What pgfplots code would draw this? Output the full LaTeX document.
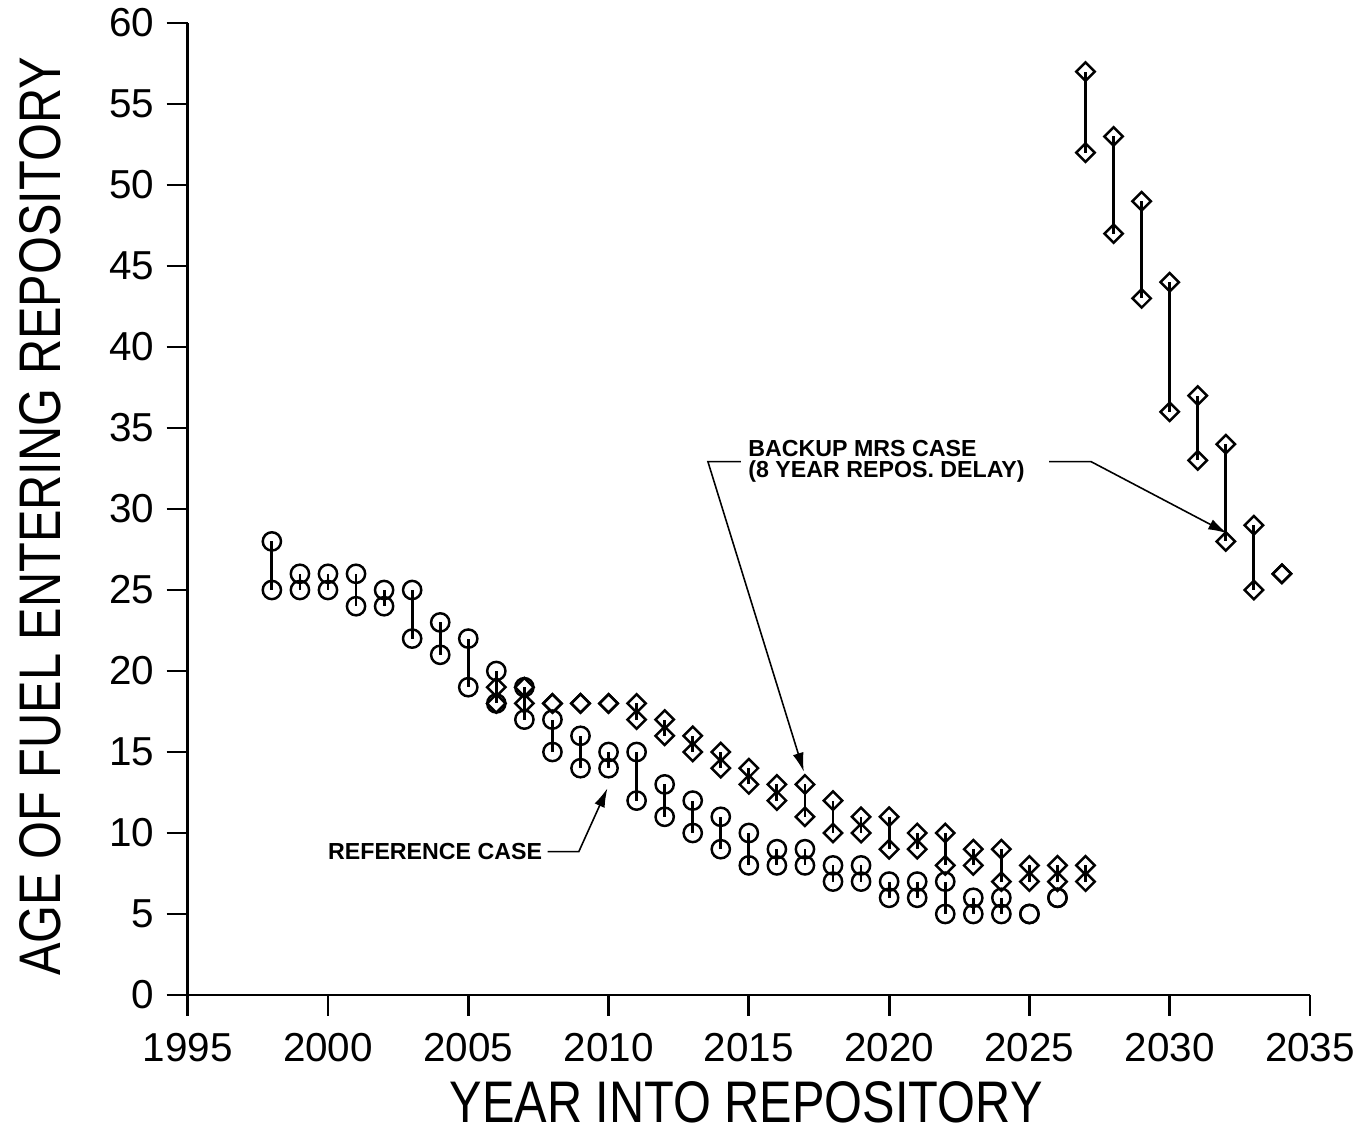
\documentclass[border=0pt]{standalone}
\usepackage{fontspec}
\setmainfont{Liberation Sans}
\newfontfamily\labfont[FakeStretch=0.83]{Liberation Sans}
\newfontfamily\annfont{Liberation Sans}
\usepackage{pgfplots}
\usepackage{pgfplotstable}
\pgfplotsset{compat=1.18}
\usetikzlibrary{arrows.meta}

\pgfplotstableread{
year hi lo
1998 28 25
1999 26 25
2000 26 25
2001 26 24
2002 25 24
2003 25 22
2004 23 21
2005 22 19
2006 20 18
2007 19 17
2008 17 15
2009 16 14
2010 15 14
2011 15 12
2012 13 11
2013 12 10
2014 11 9
2015 10 8
2016 9 8
2017 9 8
2018 8 7
2019 8 7
2020 7 6
2021 7 6
2022 7 5
2023 6 5
2024 6 5
2025 5 5
2026 6 6
}\refcase

\pgfplotstableread{
year hi lo
2006 19 18
2007 19 18
2008 18 18
2009 18 18
2010 18 18
2011 18 17
2012 17 16
2013 16 15
2014 15 14
2015 14 13
2016 13 12
2017 13 11
2018 12 10
2019 11 10
2020 11 9
2021 10 9
2022 10 8
2023 9 8
2024 9 7
2025 8 7
2026 8 7
2027 8 7
2027 57 52
2028 53 47
2029 49 43
2030 44 36
2031 37 33
2032 34 28
2033 29 25
2034 26 26
}\backup

\begin{document}
\begin{tikzpicture}
\useasboundingbox (-18.77mm,-13.9mm) rectangle (117.93mm,99.5mm);
\begin{axis}[
  at={(0,0)}, anchor=south west,
  width=112.23mm, height=97.2mm, scale only axis,
  xmin=1995, xmax=2035, ymin=0, ymax=60,
  axis lines=left, axis line style={-, line width=0.8pt, black},
  xtick={1995,2000,...,2035}, ytick={0,5,...,60},
  tick align=outside, major tick length=2.1mm,
  tick style={line width=0.8pt, black},
  ticklabel style={font=\fontsize{11.5}{13}\selectfont},
  /pgf/number format/assume math mode=true,
  xticklabel style={/pgf/number format/1000 sep={}, yshift=-0.5mm},
  xlabel={YEAR INTO REPOSITORY},
  ylabel={AGE OF FUEL ENTERING REPOSITORY},
  xlabel style={at={(axis description cs:0.4975,-0.1101)}, anchor=center, font=\labfont\fontsize{16.7}{18}\selectfont},
  ylabel style={at={(axis description cs:-0.1316,0.4923)}, anchor=center, font=\labfont\fontsize{16.7}{18}\selectfont},
  clip=false,
]
% connecting lines (range between highest and lowest age)
\addplot[draw=none, mark=none, forget plot,
  error bars/.cd, y dir=both, y explicit, error mark=none,
  error bar style={draw=black, solid, line width=0.8pt}]
  table[x=year, y expr={(\thisrow{hi}+\thisrow{lo})/2},
        y error plus expr={(\thisrow{hi}-\thisrow{lo})/2},
        y error minus expr={(\thisrow{hi}-\thisrow{lo})/2}] {\refcase};
\addplot[draw=none, mark=none, forget plot,
  error bars/.cd, y dir=both, y explicit, error mark=none,
  error bar style={draw=black, solid, line width=0.8pt}]
  table[x=year, y expr={(\thisrow{hi}+\thisrow{lo})/2},
        y error plus expr={(\thisrow{hi}-\thisrow{lo})/2},
        y error minus expr={(\thisrow{hi}-\thisrow{lo})/2}] {\backup};
% reference case: circles
\addplot[black, only marks, mark=o, mark size=2.6pt, mark options={line width=0.7pt, black}]
  table[x=year, y=hi] {\refcase};
\addplot[black, only marks, mark=o, mark size=2.6pt, mark options={line width=0.7pt, black}]
  table[x=year, y=lo] {\refcase};
% backup MRS case: diamonds
\addplot[black, only marks, mark=square, mark size=1.85pt, mark options={rotate=45, line width=0.7pt, black}]
  table[x=year, y=hi] {\backup};
\addplot[black, only marks, mark=square, mark size=1.85pt, mark options={rotate=45, line width=0.7pt, black}]
  table[x=year, y=lo] {\backup};
% annotations
\node[anchor=west, inner sep=0pt, align=left, font=\annfont\bfseries\fontsize{6.6}{5.9}\selectfont]
  at (axis cs:2014.96,32.95) {BACKUP MRS CASE\\(8 YEAR REPOS. DELAY)};
\draw[line width=0.45pt, -{Latex[length=1.9mm,width=1.1mm]}]
  (axis cs:2014.72,32.93) -- (axis cs:2013.54,32.93) -- (axis cs:2016.96,13.78);
\draw[line width=0.45pt, -{Latex[length=1.9mm,width=1.1mm]}]
  (axis cs:2025.7,32.93) -- (axis cs:2027.19,32.93) -- (axis cs:2032.05,28.5);
\node[anchor=west, inner sep=0pt, font=\annfont\bfseries\fontsize{6.6}{7}\selectfont]
  at (axis cs:1999.98,8.83) {REFERENCE CASE};
\draw[line width=0.45pt, -{Latex[length=1.9mm,width=1.1mm]}]
  (axis cs:2007.83,8.85) -- (axis cs:2008.94,8.85) -- (axis cs:2009.96,12.76);
\end{axis}
\end{tikzpicture}
\end{document}
